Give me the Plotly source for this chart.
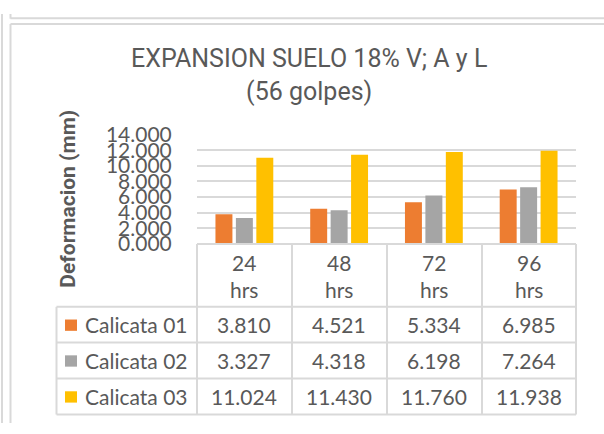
import plotly.graph_objects as go

# ---- data ----
categories = ["24 hrs", "48 hrs", "72 hrs", "96 hrs"]
series_names = ["Calicata 01", "Calicata 02", "Calicata 03"]
calicata_01 = [3.810, 4.521, 5.334, 6.985]
calicata_02 = [3.327, 4.318, 6.198, 7.264]
calicata_03 = [11.024, 11.430, 11.760, 11.938]
y_ticks = [0, 2, 4, 6, 8, 10, 12, 14]
title_text = "EXPANSION SUELO 18% V; A y L<br>(56 golpes)"
y_title = "Deformacion (mm)"

series_values = [calicata_01, calicata_02, calicata_03]
colors = ["#ED7D31", "#A5A5A5", "#FFC000"]

W, H = 604, 434
TXT = "#595959"
LINE = "#D9D9D9"


def px(x):
    return x / W


def py(y):
    return 1 - y / H


fig = go.Figure()
for name, vals, col in zip(series_names, series_values, colors):
    fig.add_trace(go.Bar(x=categories, y=vals, name=name, marker_color=col,
                         marker_line_width=0))

shapes = []
annotations = []


def hline(x0, x1, y, color=LINE, w=2):
    shapes.append(dict(type="line", xref="paper", yref="paper", x0=px(x0), x1=px(x1),
                       y0=py(y), y1=py(y), line=dict(color=color, width=w)))


def vline(x, y0, y1, color=LINE, w=2):
    shapes.append(dict(type="line", xref="paper", yref="paper", x0=px(x), x1=px(x),
                       y0=py(y0), y1=py(y1), line=dict(color=color, width=w)))


# spreadsheet / chart frame lines
vline(2, 0, H)
vline(10.5, 0, 5)
hline(10.5, W, 4.5)
vline(10.5, 10.5, H)
hline(10.5, W, 10.5)

# data table geometry
col_x = [197, 292, 387, 482, 576]
left_x = 56.5
row_y = [244, 310.7, 348.7, 386.7, 425]

hline(col_x[0], col_x[-1], row_y[0])
for y in row_y[1:]:
    hline(left_x, col_x[-1], y)
for x in col_x:
    vline(x, row_y[0], row_y[-1])
vline(left_x, row_y[1], row_y[-1])

tfont = dict(family="Lato", size=21, color=TXT)

# header (category labels)
for c in categories:
    annotations.append(dict(x=c, xref="x", y=py(277.5), yref="paper",
                            text=c.replace(" ", "<br>"), showarrow=False,
                            xanchor="center", yanchor="middle", font=tfont))

# rows
for i, (name, vals, col) in enumerate(zip(series_names, series_values, colors)):
    yc = (row_y[i + 1] + row_y[i + 2]) / 2
    shapes.append(dict(type="rect", xref="paper", yref="paper",
                       x0=px(65), x1=px(77), y0=py(yc - 5.5), y1=py(yc + 6.5),
                       fillcolor=col, line=dict(width=0)))
    annotations.append(dict(x=px(83), xref="paper", y=py(yc), yref="paper",
                            text=name, showarrow=False, xanchor="left",
                            yanchor="middle", font=tfont))
    for c, v in zip(categories, vals):
        annotations.append(dict(x=c, xref="x", y=py(yc), yref="paper",
                                text=f"{v:.3f}", showarrow=False,
                                xanchor="center", yanchor="middle", font=tfont))

# title
annotations.append(dict(x=px(309), xref="paper", y=py(65), yref="paper",
                        text=title_text, showarrow=False, xanchor="center",
                        yanchor="middle",
                        font=dict(family="Roboto", size=25, color=TXT)))
# y axis title
annotations.append(dict(x=px(68), xref="paper", y=py(196), yref="paper",
                        text=y_title, showarrow=False, textangle=-90,
                        xanchor="center", yanchor="middle",
                        font=dict(family="Roboto", size=21, color=TXT,
                                  weight="bold")))

fig.update_layout(
    width=W, height=H,
    margin=dict(l=0, r=0, t=0, b=0),
    paper_bgcolor="white", plot_bgcolor="white",
    showlegend=False,
    barmode="group", bargap=0.353, bargroupgap=0.17,
    shapes=shapes, annotations=annotations,
    xaxis=dict(domain=[px(197), px(576)], type="category",
               showticklabels=False, showgrid=False, zeroline=False,
               showline=False, ticks=""),
    yaxis=dict(domain=[py(244), py(128)], range=[0, 14], tickvals=y_ticks,
               tickformat=".3f", showgrid=True, gridcolor=LINE, gridwidth=1.5,
               zeroline=False, showline=False, ticks="outside", ticklen=20,
               tickcolor="rgba(0,0,0,0)",
               tickfont=dict(family="Lato", size=21, color=TXT)),
)

fig.write_html(
    "out.html",
    config={"displayModeBar": False},
    post_script="document.body.style.margin='0';document.body.style.padding='0';"
                "document.documentElement.style.overflow='hidden';",
)
